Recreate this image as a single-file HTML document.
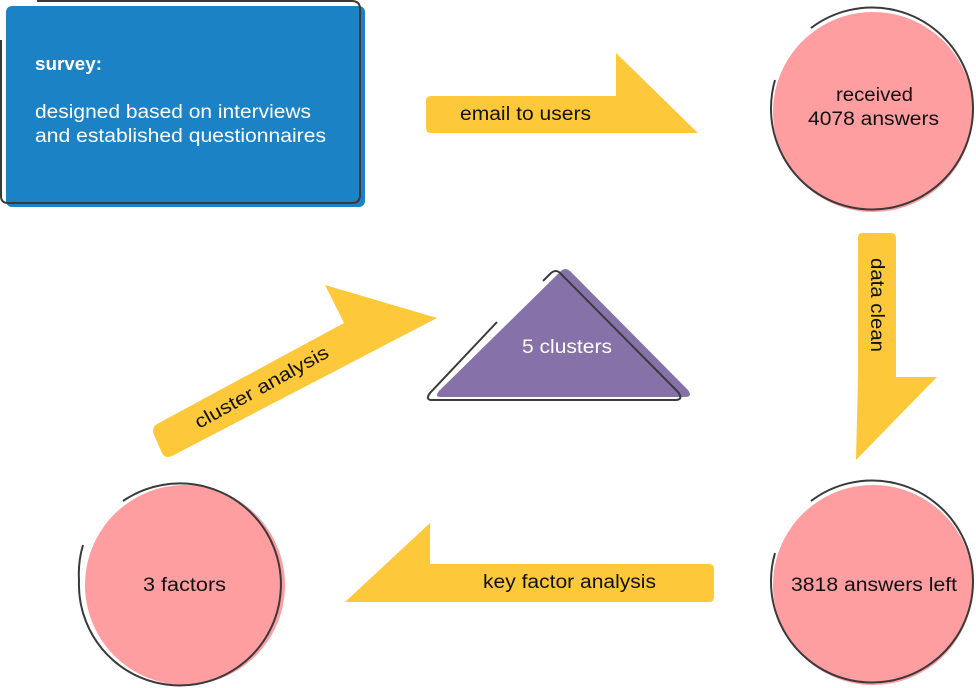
<!DOCTYPE html>
<html><head><meta charset="utf-8"><style>
html,body{margin:0;padding:0;background:#fff;}
svg{display:block;}
text{font-family:"Liberation Sans",sans-serif;}
</style></head><body>
<svg width="976" height="688" viewBox="0 0 976 688">
<!-- survey box -->
<rect x="6" y="6" width="359" height="201" rx="6" fill="#1b82c5"/>
<path d="M37 1 H352 Q360 1 360 9 V195 Q360 203 352 203 H8 Q1 203 1 196 V40" fill="none" stroke="#3a3a3a" stroke-width="2"/>
<text x="35" y="70" fill="#fff" font-size="18" font-weight="bold" textLength="67" lengthAdjust="spacingAndGlyphs">survey:</text>
<text x="35" y="118" fill="#fff" font-size="19" textLength="276" lengthAdjust="spacingAndGlyphs">designed based on interviews</text>
<text x="35" y="142" fill="#fff" font-size="19" textLength="291" lengthAdjust="spacingAndGlyphs">and established questionnaires</text>

<!-- email arrow -->
<path d="M431 96 H616 V53 L698 133 H431 Q426 133 426 128 V101 Q426 96 431 96Z" fill="#fdc93a"/>
<text x="460" y="120" font-size="19" fill="#111" textLength="131" lengthAdjust="spacingAndGlyphs">email to users</text>

<!-- received circle -->
<circle cx="873" cy="112" r="100" fill="#fe9ea0"/>
<path d="M811 28 A101 101 0 1 1 771 108 A101 101 0 0 1 775 80" fill="none" stroke="#3a3a3a" stroke-width="2"/>
<text x="836" y="101" font-size="19" fill="#111" textLength="77" lengthAdjust="spacingAndGlyphs">received</text>
<text x="808" y="125" font-size="19" fill="#111" textLength="131" lengthAdjust="spacingAndGlyphs">4078 answers</text>

<!-- data clean arrow -->
<path d="M862 233 H891 Q896 233 896 238 V377 H937 L856 460 L858 377 V238 Q858 233 862 233Z" fill="#fdc93a"/>
<text transform="translate(871,258) rotate(90)" font-size="19" fill="#111" textLength="94" lengthAdjust="spacingAndGlyphs">data clean</text>

<!-- 3818 circle -->
<circle cx="873" cy="585" r="100" fill="#fe9ea0"/>
<path d="M811 501 A101 101 0 1 1 771 581 A101 101 0 0 1 775 553" fill="none" stroke="#3a3a3a" stroke-width="2"/>
<text x="791" y="591" font-size="19" fill="#111" textLength="166" lengthAdjust="spacingAndGlyphs">3818 answers left</text>

<!-- key factor arrow -->
<path d="M709 564 H430 V523 L345 602 H709 Q714 602 714 597 V569 Q714 564 709 564Z" fill="#fdc93a"/>
<text x="483" y="588" font-size="19" fill="#111" textLength="173" lengthAdjust="spacingAndGlyphs">key factor analysis</text>

<!-- 3 factors circle -->
<circle cx="185" cy="585" r="100" fill="#fe9ea0"/>
<path d="M123 501 A101 101 0 1 1 79 580 A101 101 0 0 1 83 545" fill="none" stroke="#3a3a3a" stroke-width="2"/>
<text x="143" y="591" font-size="19" fill="#111" textLength="83" lengthAdjust="spacingAndGlyphs">3 factors</text>

<!-- cluster analysis arrow -->
<path d="M157 424 L344 323 L325 285 L437 318 L172 456 Q165 459 162 453 L154 435 Q151 428 157 424Z" fill="#fdc93a"/>
<text transform="translate(199,429) rotate(-29)" font-size="19" fill="#111" textLength="150" lengthAdjust="spacingAndGlyphs">cluster analysis</text>

<!-- triangle -->
<path d="M560 272 Q565 266 571 272 L688 390 Q693 397 685 397 H441 Q434 397 439 391 Z" fill="#8771a9"/>
<path d="M543 281 L550 274 Q556 268 561 274 L678 392 Q684 400 675 400 H432 Q425 400 430 393 L497 322" fill="none" stroke="#3a3a3a" stroke-width="2"/>
<text x="522" y="353" font-size="19" fill="#fff" textLength="90" lengthAdjust="spacingAndGlyphs">5 clusters</text>
</svg>
</body></html>
